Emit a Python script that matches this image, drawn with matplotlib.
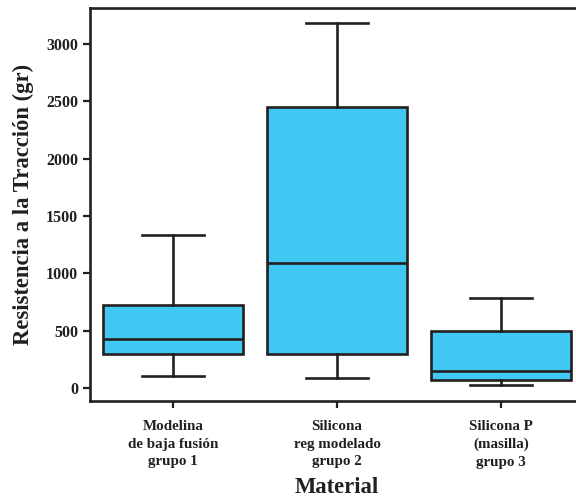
import matplotlib
matplotlib.use("Agg")
import matplotlib.pyplot as plt

categories = ["Modelina\nde baja fusión\ngrupo 1",
              "Silicona\nreg modelado\ngrupo 2",
              "Silicona P\n(masilla)\ngrupo 3"]
whisker_low = [107, 92, 26]
q1 = [296, 296, 72]
median = [427, 1089, 151]
q3 = [725, 2453, 499]
whisker_high = [1338, 3183, 789]
yticks = [0, 500, 1000, 1500, 2000, 2500, 3000]

plt.rcParams['font.family'] = ['Liberation Serif', 'DejaVu Serif']
plt.rcParams['font.weight'] = 'bold'
plt.rcParams['axes.labelweight'] = 'bold'

dark = '#231F20'
fill = '#40C7F2'

fig = plt.figure(figsize=(5.76, 4.99), dpi=100)
ax = fig.add_axes([90/576, (499-400.7)/499, 494/576, (400.7-8.3)/499])

stats = []
for i, c in enumerate(categories):
    stats.append(dict(label=c, whislo=whisker_low[i], q1=q1[i], med=median[i],
                      q3=q3[i], whishi=whisker_high[i], fliers=[]))

lw = 1.9
ax.bxp(stats, positions=[1, 2, 3], widths=0.85, patch_artist=True,
       showfliers=False,
       boxprops=dict(facecolor=fill, edgecolor=dark, linewidth=lw),
       medianprops=dict(color=dark, linewidth=lw),
       whiskerprops=dict(color=dark, linewidth=lw),
       capprops=dict(color=dark, linewidth=lw),
       capwidths=0.38)

ax.set_xlim(0.494, 3.506)
ax.set_ylim(-108, 3310)
ax.set_yticks(yticks)
ax.set_yticklabels([str(v) for v in yticks], fontweight='bold')
ax.set_xticks([1, 2, 3])
ax.set_xticklabels(categories, fontsize=10.8, linespacing=1.45, fontweight='bold')

for s in ax.spines.values():
    s.set_linewidth(1.9)
    s.set_color(dark)
ax.tick_params(axis='both', colors=dark, width=1.6, length=5, pad=3.5)
ax.tick_params(axis='y', labelsize=11.5)
ax.tick_params(axis='x', pad=9)

ax.set_ylabel("Resistencia a la Tracción (gr)", fontsize=16.3, color=dark,
              labelpad=9, fontweight='bold')
ax.set_xlabel("Material", fontsize=16.3, color=dark, labelpad=6, fontweight='bold')

fig.savefig("out.png", dpi=100)
